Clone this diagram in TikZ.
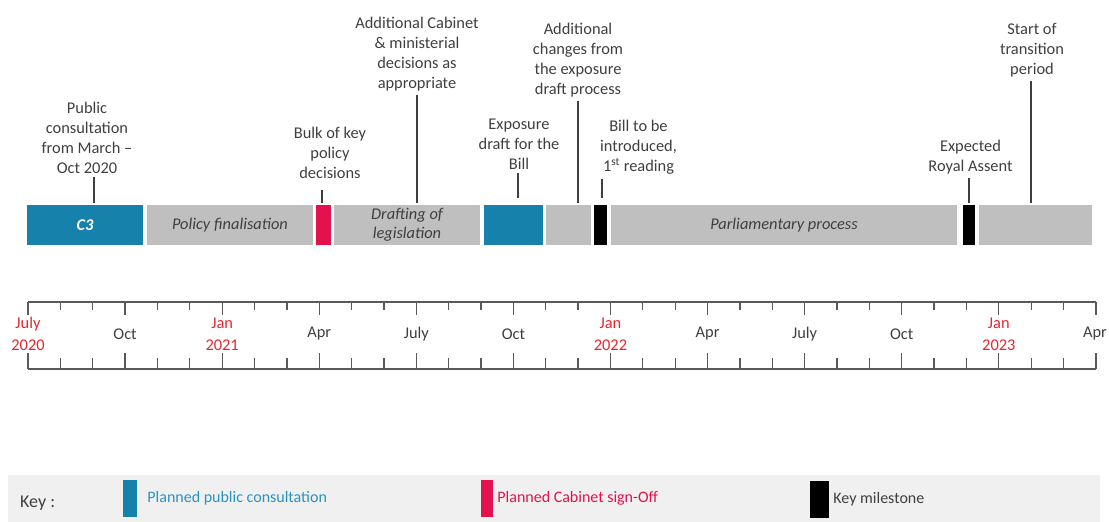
\documentclass[tikz,border=0pt]{standalone}
\usepackage{fontspec}
\setmainfont{Carlito}
\usepackage{xcolor}
\usepackage{tikz}
\usetikzlibrary{positioning,calc}
\definecolor{consblue}{HTML}{1681AB}
\definecolor{signred}{HTML}{E3124F}
\definecolor{phasegray}{HTML}{BFBFBF}
\definecolor{keygray}{HTML}{F0F0F0}
\definecolor{inkgray}{HTML}{3F3F3F}
\definecolor{axisgray}{HTML}{595959}
\definecolor{monthred}{HTML}{E5262F}
\definecolor{keyblue}{HTML}{2B93C1}
\tikzset{
  phasebar/.style={rectangle, inner sep=0pt, outer sep=0pt, minimum height=40pt,
    align=center, font=\fontsize{16.4}{19}\selectfont\itshape, text=inkgray},
  grayphase/.style={phasebar, fill=phasegray},
  consphase/.style={phasebar, fill=consblue, text=white,
    font=\fontsize{16.4}{19}\selectfont\bfseries\itshape},
  signphase/.style={phasebar, fill=signred},
  milestone/.style={phasebar, fill=black},
  callout/.style={align=center, inner sep=4pt, text=inkgray,
    font=\fontsize{16.4}{20}\selectfont},
  lead/.style={draw=inkgray, line width=1.3pt, shorten <=2pt},
  monthlbl/.style={align=center, inner sep=0pt, text=inkgray,
    font=\fontsize{16.4}{22}\selectfont},
  yearlbl/.style={monthlbl, text=monthred},
  axisline/.style={draw=axisgray, line width=1.8pt},
  tickline/.style={draw=axisgray, line width=1.3pt},
  keyswatch/.style={rectangle, inner sep=0pt, minimum height=37pt},
  keytext/.style={anchor=west, inner sep=0pt, font=\fontsize{16}{19}\selectfont},
}

\begin{document}
\begin{tikzpicture}[x=1pt, y=-1pt]
  \useasboundingbox (0,0) rectangle (1109,522);

  \node[consphase, minimum width=116pt] (c3) at (85,225) {C3};
  \node[grayphase, minimum width=166pt] (policy) at (230,225) {Policy finalisation};
  \node[signphase, minimum width=15pt] (signoff) at (323.5,225) {};
  \node[grayphase, minimum width=146pt] (drafting) at (407,225) {Drafting of\\legislation};
  \node[consphase, minimum width=59pt] (exposure) at (513.5,225) {};
  \node[grayphase, minimum width=45pt] (changes) at (568.5,225) {};
  \node[milestone, minimum width=13pt] (intro) at (600.5,225) {};
  \node[grayphase, minimum width=346pt] (parliament) at (784,225) {Parliamentary process};
  \node[milestone, minimum width=12pt] (assent) at (969,225) {};
  \node[grayphase, minimum width=113pt] (transition) at (1035.5,225) {};

  \node[callout] (pubtxt) at (87,137.5) {Public\\consultation\\from March --\\Oct 2020};
  \node[callout] (bulktxt) at (330,152.5) {Bulk of key\\policy\\decisions};
  \node[callout] (cabtxt) at (417,54) {Additional Cabinet\\\& ministerial\\decisions as\\appropriate};
  \node[callout] (expotxt) at (519,144) {Exposure\\draft for the\\Bill};
  \node[callout] (chgtxt) at (578,60) {Additional\\changes from\\the exposure\\draft process};
  \node[callout] (billtxt) at (638.5,147.5) {Bill to be\\introduced,\\1\textsuperscript{st} reading};
  \node[callout] (assenttxt) at (970.5,157) {Expected\\Royal Assent};
  \node[callout] (transtxt) at (1032,50) {Start of\\transition\\period};

  \draw[lead] ([xshift=9pt]c3.north) -- ([xshift=9pt]c3.north |- pubtxt.south);
  \draw[lead, shorten >=8pt] ([xshift=-1.5pt]signoff.north) -- ([xshift=-1.5pt]signoff.north |- bulktxt.south);
  \draw[lead] ([xshift=10pt]drafting.north) -- ([xshift=10pt]drafting.north |- cabtxt.south);
  \draw[lead, shorten <=7pt] ([xshift=4.5pt]exposure.north) -- ([xshift=4.5pt]exposure.north |- expotxt.south);
  \draw[lead] ([xshift=9.5pt]changes.north) -- ([xshift=9.5pt]changes.north |- chgtxt.south);
  \draw[lead, shorten <=7pt] ([xshift=1.5pt]intro.north) -- ([xshift=1.5pt]intro.north |- billtxt.south);
  \draw[lead] (assent.north) -- (assent.north |- assenttxt.south);
  \draw[lead] ([xshift=-4.5pt]transition.north) -- ([xshift=-4.5pt]transition.north |- transtxt.south);

  \draw[axisline] (28,302) -- (1096,302);
  \draw[axisline] (28,369) -- (1096,369);
  \foreach \m in {0,...,33} {
    \pgfmathsetmacro{\tx}{28+32.36*\m}
    \pgfmathtruncatemacro{\q}{mod(\m,3)}
    \ifnum\q=0
      \draw[tickline] (\tx,302) -- (\tx,315);
      \draw[tickline] (\tx,369) -- (\tx,353);
    \else
      \draw[tickline] (\tx,302) -- (\tx,310);
      \draw[tickline] (\tx,369) -- (\tx,358);
    \fi
  }
  \foreach \m/\txt/\sty in {0/{July\\2020}/yearlbl, 3/Oct/monthlbl, 6/{Jan\\2021}/yearlbl,
      9/Apr/monthlbl, 12/July/monthlbl, 15/Oct/monthlbl, 18/{Jan\\2022}/yearlbl,
      21/Apr/monthlbl, 24/July/monthlbl, 27/Oct/monthlbl, 30/{Jan\\2023}/yearlbl} {
    \node[\sty] (q\m) at (28+32.36*\m,334) {\txt};
  }
  \node[monthlbl] (q33) at (1095,334) {Apr};

  \fill[keygray] (8,475) rectangle (1100,522);
  \node[anchor=west, inner sep=0pt, text=inkgray, font=\fontsize{18}{20}\selectfont] (keyhead) at (20,503) {Key :};
  \node[keyswatch, fill=consblue, minimum width=14pt] (keycons) at (130,498.5) {};
  \node[keytext, text=keyblue, right=10pt of keycons] (keyconstxt) {Planned public consultation};
  \node[keyswatch, fill=signred, minimum width=12pt] (keysign) at (487,498.5) {};
  \node[keytext, text=signred, right=4pt of keysign] (keysigntxt) {Planned Cabinet sign-Off};
  \node[keyswatch, fill=black, minimum width=19pt] (keymile) at (819.5,499.5) {};
  \node[keytext, text=inkgray, right=4pt of keymile] (keymiletxt) {Key milestone};
\end{tikzpicture}
\end{document}
